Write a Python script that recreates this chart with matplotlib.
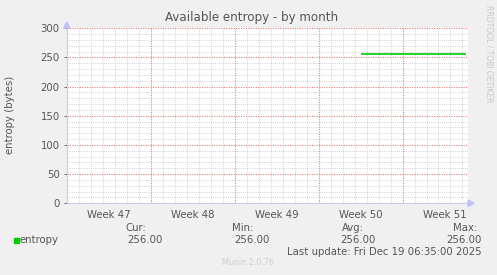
import matplotlib
matplotlib.use('Agg')
import matplotlib.pyplot as plt
import numpy as np

# Data (x in days from left edge of graph)
days = [24.5, 33.3]
entropy = [256, 256]
week_labels = ['Week 47', 'Week 48', 'Week 49', 'Week 50', 'Week 51']
week_starts = [0, 7, 14, 21, 28]
y_ticks = [0, 50, 100, 150, 200, 250, 300]
x_max = 33.46

W, H = 497, 275
BG = '#f0f0f0'
TXT = '#555555'
plt.rcParams['font.family'] = ['DejaVu Sans']


def fx(px):
    return px / W


def fy(py):
    return 1 - py / H


fig = plt.figure(figsize=(W / 100, H / 100), dpi=100, facecolor=BG)
left, right, top, bottom = 66.7, 468, 28.3, 203.3
ax = fig.add_axes([fx(left), fy(bottom), fx(right - left), (bottom - top) / H])
ax.set_facecolor('white')
ax.set_xlim(0, x_max)
ax.set_ylim(0, 300)

# grid: minor (days / 10 units) then major (weeks / 50 units)
dots = (0, (1, 1.2))
for d in np.arange(1, x_max, 1):
    if d % 7 != 0:
        ax.axvline(d, color='#d2d2d2', lw=0.7, ls=dots, zorder=1)
for v in range(10, 301, 10):
    if v % 50 != 0:
        ax.axhline(v, color='#d2d2d2', lw=0.7, ls=dots, zorder=1)
for d in week_starts[1:]:
    ax.axvline(d, color='#e68080', lw=0.8, ls=dots, zorder=2)
for v in y_ticks[1:]:
    ax.axhline(v, color='#e68080', lw=0.8, ls=dots, zorder=2)

ax.plot(days, entropy, color='#00cc00', lw=1.2, zorder=5, solid_capstyle='butt')

for s in ['top', 'right']:
    ax.spines[s].set_visible(False)
for s in ['left', 'bottom']:
    ax.spines[s].set_color('#c8c8f0')
    ax.spines[s].set_linewidth(0.8)

ax.set_yticks(y_ticks)
ax.set_yticklabels([str(v) for v in y_ticks])
ax.set_xticks([w + 3.5 for w in week_starts])
ax.set_xticklabels(week_labels)
ax.tick_params(axis='x', length=0, pad=5, labelsize=7.3, colors=TXT)
ax.tick_params(axis='y', length=2, pad=3, labelsize=7.3, colors=TXT, width=0.6)
for t in ax.yaxis.get_ticklines():
    t.set_color('#999999')

# axis arrows
fig.patches.append(plt.Polygon([[fx(left - 3), fy(28)], [fx(left + 3), fy(28)], [fx(left), fy(22)]],
                               closed=True, color='#c0c0f4', transform=fig.transFigure))
fig.patches.append(plt.Polygon([[fx(right), fy(200)], [fx(right), fy(206.5)], [fx(right + 6), fy(203.3)]],
                               closed=True, color='#c0c0f4', transform=fig.transFigure))

fig.text(fx(252), fy(21), 'Available entropy - by month', ha='center', va='baseline',
         fontsize=8.6, color=TXT)
fig.text(fx(10), fy(115), 'entropy (bytes)', rotation=90, ha='center', va='center',
         fontsize=7.3, color=TXT)
fig.text(fx(489), fy(5), 'RRDTOOL / TOBI OETIKER', rotation=270, ha='center', va='top',
         fontsize=5.5, color='#c8c8c8')

# legend
fig.patches.append(plt.Rectangle((fx(14), fy(243)), 5 / W, 5 / H, color='#00cc00',
                                 transform=fig.transFigure))
fig.text(fx(20), fy(243), 'entropy', ha='left', va='baseline', fontsize=7.3, color=TXT)
cols = [('Cur:', 146, 163), ('Min:', 253, 270), ('Avg:', 364, 376), ('Max:', 477, 482)]
for name, rx_name, rx_val in cols:
    fig.text(fx(rx_name), fy(231), name, ha='right', va='baseline', fontsize=7.3, color=TXT)
    fig.text(fx(rx_val), fy(243), '%.2f' % entropy[-1], ha='right', va='baseline',
             fontsize=7.3, color=TXT)
fig.text(fx(482), fy(255), 'Last update: Fri Dec 19 06:35:00 2025', ha='right', va='baseline',
         fontsize=7.3, color=TXT)
fig.text(fx(248), fy(265), 'Munin 2.0.76', ha='center', va='baseline', fontsize=5.8, color='#cccccc')

fig.savefig('out.png', dpi=100, facecolor=BG)
